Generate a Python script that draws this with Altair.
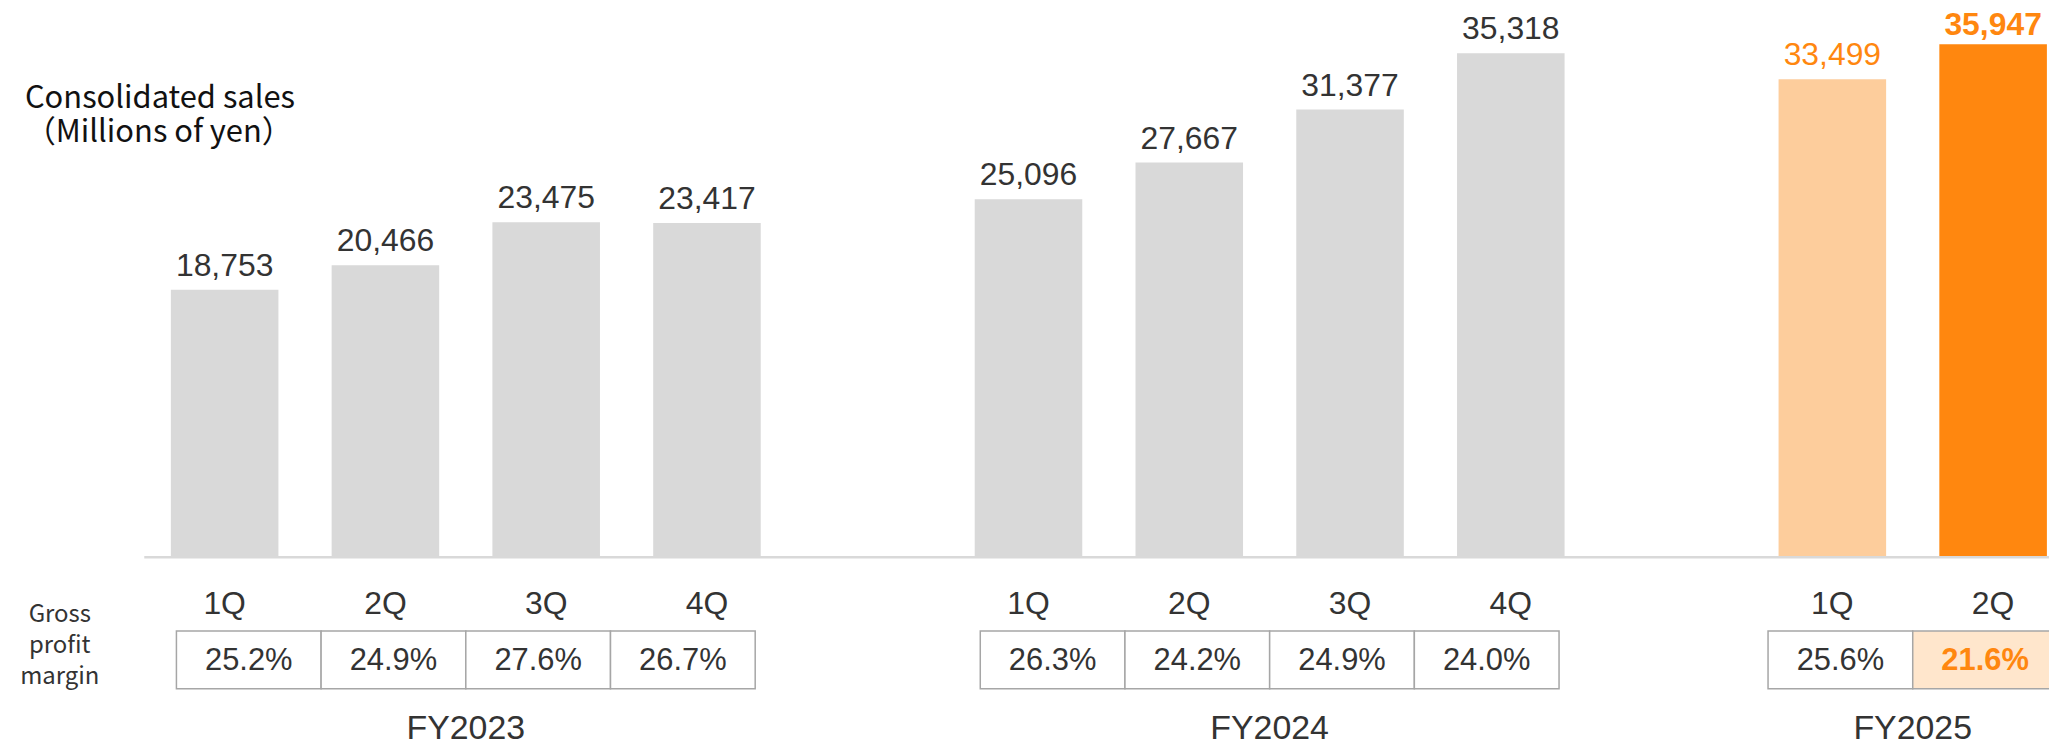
import altair as alt
import pandas as pd

# ---- data ----
fiscal_years = ["FY2023", "FY2023", "FY2023", "FY2023",
                "FY2024", "FY2024", "FY2024", "FY2024",
                "FY2025", "FY2025"]
quarters = ["1Q", "2Q", "3Q", "4Q", "1Q", "2Q", "3Q", "4Q", "1Q", "2Q"]
sales = [18753, 20466, 23475, 23417, 25096, 27667, 31377, 35318, 33499, 35947]
gross_margin = [25.2, 24.9, 27.6, 26.7, 26.3, 24.2, 24.9, 24.0, 25.6, 21.6]
bar_group = ["past"] * 8 + ["prev", "latest"]
year_order = ["FY2023", "FY2024", "FY2025"]

sales_title = ["Consolidated sales", "（Millions of yen）"]
margin_title = ["Gross", "profit", "margin"]

# ---- table for the library ----
df = pd.DataFrame({
    "fy": fiscal_years,
    "q": quarters,
    "sales": sales,
    "margin": gross_margin,
    "grp": bar_group,
})
df["yidx"] = df["fy"].map(year_order.index)
df["qidx"] = df["q"].str[0].astype(int) - 1
df["slot"] = df["yidx"] * 5 + df["qidx"]
df["sales_label"] = df["sales"].map(lambda v: f"{v:,}")
df["margin_label"] = df["margin"].map(lambda v: f"{v:.1f}%")
gc = df.groupby("fy")["slot"].transform("mean")
n = df.groupby("fy")["slot"].transform("count")
df["cell_c"] = gc + (df["qidx"] - (n - 1) / 2) * 0.9

FONT = "Liberation Sans"
JP = "Noto Sans CJK JP"
DARK = "#333333"
ORANGE = "#FF870F"

xs = alt.Scale(domain=[0, 11], range=[217.5, 1992.9], nice=False, zero=False)
ys = alt.Scale(domain=[0, 38389], range=[550, 0], nice=False, zero=True)

base = alt.Chart(df)

bars = base.transform_calculate(
    lo="datum.slot - 0.3345", hi="datum.slot + 0.3345", zero="0"
).mark_rect().encode(
    x=alt.X("lo:Q", scale=xs, axis=None),
    x2="hi:Q",
    y=alt.Y("sales:Q", scale=ys, axis=None),
    y2="zero:Q",
    color=alt.Color("grp:N", scale=alt.Scale(domain=["past", "prev", "latest"],
                                             range=["#D9D9D9", "#FDCD9C", ORANGE]),
                    legend=None),
)

axis_line = base.transform_aggregate(
    lo="min(slot)", hi="max(slot)"
).transform_calculate(
    x0="datum.lo - 0.5", x1="datum.hi + 0.5", zero="0"
).mark_rule(color="#D9D9D9", strokeWidth=2.5).encode(
    x=alt.X("x0:Q", scale=xs, axis=None),
    x2="x1:Q",
    y=alt.Y("zero:Q", scale=ys, axis=None),
)

val_labels = base.transform_filter(alt.datum.grp != "latest").mark_text(
    font=FONT, fontSize=32, baseline="alphabetic", dy=-14
).encode(
    x=alt.X("slot:Q", scale=xs, axis=None),
    y=alt.Y("sales:Q", scale=ys, axis=None),
    text="sales_label:N",
    color=alt.condition(alt.datum.fy == "FY2025", alt.value(ORANGE), alt.value(DARK)),
)

val_latest = base.transform_filter(alt.datum.grp == "latest").mark_text(
    font=FONT, fontSize=32, fontWeight="bold", baseline="alphabetic", dy=-9, color=ORANGE
).encode(
    x=alt.X("slot:Q", scale=xs, axis=None),
    y=alt.Y("sales:Q", scale=ys, axis=None),
    text="sales_label:N",
)

q_labels = base.mark_text(
    font=FONT, fontSize=32, baseline="alphabetic", color=DARK
).encode(
    x=alt.X("slot:Q", scale=xs, axis=None),
    y=alt.value(607),
    text="q:N",
)

cells = base.transform_calculate(
    clo="datum.cell_c - 0.45", chi="datum.cell_c + 0.45"
).mark_rect(stroke="#A6A6A6", strokeWidth=1.5).encode(
    x=alt.X("clo:Q", scale=xs, axis=None),
    x2="chi:Q",
    y=alt.value(624),
    y2=alt.value(682),
    fill=alt.condition(alt.datum.grp == "latest", alt.value("#FFE6CC"), alt.value("#FFFFFF")),
)

margin_txt = base.transform_filter(alt.datum.grp != "latest").mark_text(
    font=FONT, fontSize=31, baseline="middle", color=DARK
).encode(
    x=alt.X("cell_c:Q", scale=xs, axis=None),
    y=alt.value(654),
    text="margin_label:N",
)

margin_latest = base.transform_filter(alt.datum.grp == "latest").mark_text(
    font=FONT, fontSize=31, fontWeight="bold", baseline="middle", color=ORANGE
).encode(
    x=alt.X("cell_c:Q", scale=xs, axis=None),
    y=alt.value(654),
    text="margin_label:N",
)

fy_labels = base.transform_aggregate(
    center="mean(slot)", groupby=["fy"]
).mark_text(font=FONT, fontSize=34, baseline="alphabetic", color=DARK).encode(
    x=alt.X("center:Q", scale=xs, axis=None),
    y=alt.value(732),
    text="fy:N",
)

one = alt.Chart(pd.DataFrame({"k": [0]}))
sales_note = one.mark_text(
    text=sales_title, font=JP, fontSize=31, align="left", baseline="alphabetic",
    lineHeight=34, color="#111111"
).encode(x=alt.value(17), y=alt.value(99))

margin_note = one.mark_text(
    text=margin_title, font=JP, fontSize=24, align="center", baseline="alphabetic",
    lineHeight=31, color=DARK
).encode(x=alt.value(52), y=alt.value(615))

chart = alt.layer(
    bars, axis_line, val_labels, val_latest, q_labels, cells,
    margin_txt, margin_latest, fy_labels, sales_note, margin_note
).properties(
    width=2049, height=735,
    autosize=alt.AutoSizeParams(type="none"),
    padding=0,
    background="white",
).configure_view(stroke=None)

chart.save("out.html", embed_options={"renderer": "svg", "actions": False})
